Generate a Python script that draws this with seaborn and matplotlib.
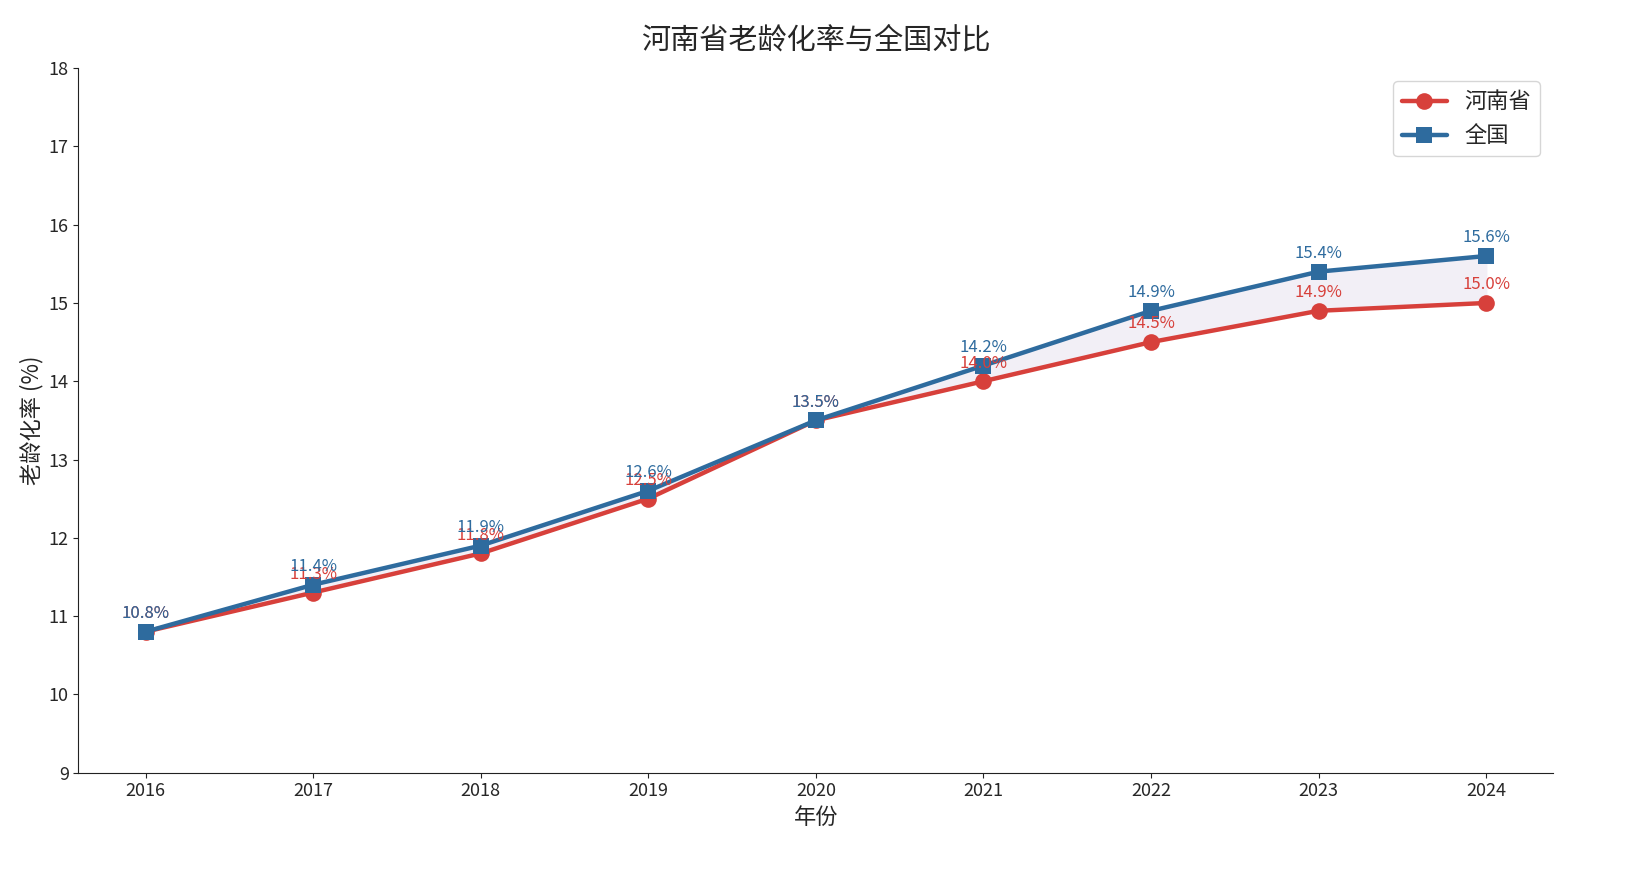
import numpy as np
import pandas as pd
import matplotlib
matplotlib.use('Agg')
import matplotlib.pyplot as plt
import seaborn as sns

# data
years = [2016, 2017, 2018, 2019, 2020, 2021, 2022, 2023, 2024]
henan = [10.8, 11.3, 11.8, 12.5, 13.5, 14.0, 14.5, 14.9, 15.0]
national = [10.8, 11.4, 11.9, 12.6, 13.5, 14.2, 14.9, 15.4, 15.6]

sns.set_style('ticks')
plt.rcParams['font.family'] = ['Noto Sans CJK SC', 'DejaVu Sans']
plt.rcParams['axes.unicode_minus'] = False

df = pd.DataFrame({'年份': years, '河南省': henan, '全国': national})

red = '#d7403b'
blue = '#2e6b9e'

fig, ax = plt.subplots(figsize=(16.35, 8.85), dpi=100)

ax.fill_between(df['年份'], df['河南省'], df['全国'], color='#f2eff6', zorder=1)
sns.lineplot(data=df, x='年份', y='河南省', ax=ax, color=red, linewidth=3.2,
             marker='o', markersize=12, markeredgewidth=0, label='河南省', zorder=3)
sns.lineplot(data=df, x='年份', y='全国', ax=ax, color=blue, linewidth=3.2,
             marker='s', markersize=12, markeredgewidth=0, label='全国', zorder=4)

# value labels (they overlap where the two series are close, as in the original)
for x, y in zip(years, henan):
    ax.annotate(f'{y:.1f}%', (x, y), xytext=(0, 7), textcoords='offset points',
                ha='center', va='bottom', fontsize=12, color=red, zorder=5)
for x, y in zip(years, national):
    ax.annotate(f'{y:.1f}%', (x, y), xytext=(0, 7), textcoords='offset points',
                ha='center', va='bottom', fontsize=12, color=blue, zorder=6)

ax.set_ylim(9, 18)
ax.set_xticks(years)
ax.set_title('河南省老龄化率与全国对比', fontsize=21, pad=14)
ax.set_xlabel('年份', fontsize=16)
ax.set_ylabel('老龄化率 (%)', fontsize=16)
ax.tick_params(labelsize=13, color='#222222')
for s in ax.spines.values():
    s.set_color('#222222')
sns.despine(ax=ax)
ax.legend(loc='upper right', fontsize=16, frameon=True, borderaxespad=0.6)

fig.subplots_adjust(left=0.048, right=0.95, top=0.923, bottom=0.127)
fig.savefig('out.png', dpi=100)
